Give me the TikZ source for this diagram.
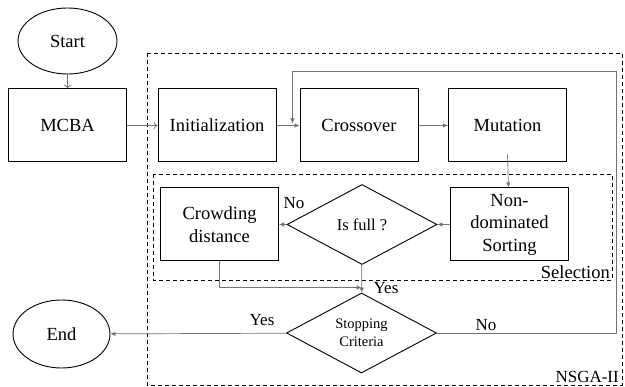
\documentclass[tikz,border=0pt]{standalone}
\usepackage{fontspec}
\setmainfont{Liberation Serif}
\usetikzlibrary{shapes.geometric,arrows.meta}

\begin{document}
\begin{tikzpicture}[x=1pt,y=-1pt,
  box/.style={draw, line width=1pt, minimum width=118pt, minimum height=73pt,
    inner sep=1pt, align=center, font=\fontsize{18.5}{22.5}\selectfont},
  oval/.style={draw, ellipse, line width=0.9pt, inner sep=0pt,
    font=\fontsize{18.5}{22.5}\selectfont},
  decision/.style={draw, diamond, line width=0.9pt, minimum width=150pt,
    minimum height=80pt, inner sep=1pt, aspect=1.9, align=center},
  flow/.style={draw=black!55, line width=0.7pt, -{Latex[length=5pt,width=4.5pt]}},
  openflow/.style={draw=black!55, line width=0.7pt, -{To[length=4pt,width=8pt]}},
  region/.style={draw, dash pattern=on 4pt off 3pt, line width=0.8pt},
  lbl/.style={inner sep=1pt, font=\fontsize{17}{20}\selectfont}
]
  \useasboundingbox (0,0) rectangle (625,387);

  % dashed regions
  \draw[region] (147,53) rectangle (622,385);
  \draw[region] (153,174) rectangle (612,280);
  \node[lbl, anchor=south east, font=\fontsize{18.5}{20}\selectfont] (sel) at (611,280) {Selection};
  \node[lbl, anchor=south east] (nsga) at (620,384) {NSGA-II};

  % terminals
  \node[oval, minimum width=99pt, minimum height=66pt] (start) at (67.5,41) {Start};
  \node[oval, minimum width=97pt, minimum height=68pt] (end) at (61.5,334) {End};

  % process steps
  \node[box] (mcba) at (67.5,125.5) {MCBA};
  \node[box] (init) at (217,125.5) {Initialization};
  \node[box] (cross) at (359,125.5) {Crossover};
  \node[box] (mut) at (507.5,125.5) {Mutation};
  \node[box] (nondom) at (509.5,224.5) {Non-\\dominated\\Sorting};
  \node[box] (crowd) at (219.5,224.5) {Crowding\\distance};

  % decisions
  \node[decision, font=\fontsize{16.5}{20}\selectfont] (full) at (362,224.5) {Is full ?};
  \node[decision, font=\fontsize{14.5}{18}\selectfont] (stop) at (361.5,333) {Stopping\\Criteria};

  % helper points
  \coordinate (mutout) at ([yshift=8pt]mut.south);
  \coordinate (join) at ([yshift=5pt]stop.north);
  \coordinate (loopcorner) at (616,71);
  \coordinate (loopin) at ([xshift=-7pt,yshift=2pt]cross.west);

  % connectors
  \draw[openflow] (start) -- (mcba);
  \draw[openflow] (mcba) -- (init);
  \draw[flow] (init) -- (cross);
  \draw[flow] (cross) -- (mut);
  \draw[flow] (mutout) -- (nondom);
  \draw[flow] (nondom) -- (full);
  \draw[flow] (full) -- (crowd);
  \draw[flow] (crowd.south) |- (join);
  \draw[flow] (full) -- (stop);
  \draw[flow] (stop) -- (end);
  \draw[flow] (stop.east) -| (loopcorner) -| (loopin);

  % branch labels
  \node[lbl] (fullno) at (294,203) {No};
  \node[lbl] (fullyes) at (386,288) {Yes};
  \node[lbl] (stopyes) at (262,320) {Yes};
  \node[lbl] (stopno) at (486,325) {No};
\end{tikzpicture}
\end{document}
